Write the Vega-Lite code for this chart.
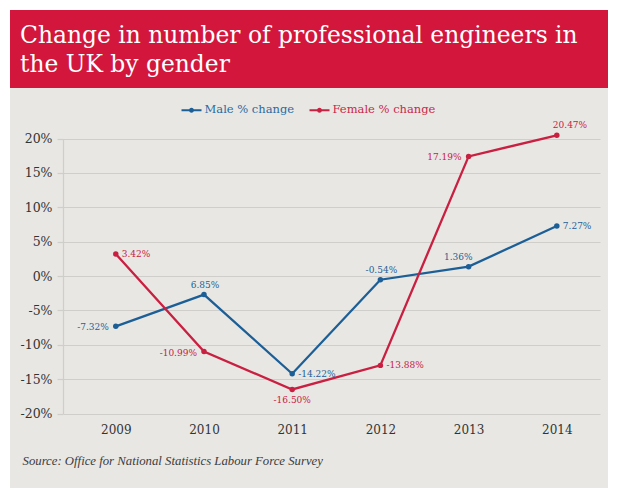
{
  "$schema": "https://vega.github.io/schema/vega-lite/v6.json",
  "background": "white",
  "padding": {"left": 10, "top": 10, "right": 10, "bottom": 12},
  "spacing": 0,
  "bounds": "flush",
  "config": {"view": {"stroke": null}, "font": "DejaVu Serif"},
  "resolve": {"legend": {"color": "independent"}},
  "vconcat": [
    {
      "width": 598,
      "height": 78,
      "view": {"fill": "#d3163b", "stroke": null},
      "data": {"values": [{"title": ["Change in number of professional engineers in", "the UK by gender"]}]},
      "mark": {
        "type": "text",
        "align": "left",
        "baseline": "middle",
        "dx": -289,
        "dy": -13,
        "lineHeight": 28.7,
        "font": "DejaVu Serif",
        "fontSize": 23.4,
        "fontWeight": "normal",
        "color": "white"
      },
      "encoding": {"text": {"field": "title"}}
    },
    {
      "width": 598,
      "height": 400,
      "view": {"fill": "#e8e7e3", "stroke": null},
      "data": {
        "values": [
          {"year": "2009", "series": "Male % change", "value": -7.32, "label": "-7.32%"},
          {"year": "2010", "series": "Male % change", "value": -2.7, "label": "6.85%"},
          {"year": "2011", "series": "Male % change", "value": -14.22, "label": "-14.22%"},
          {"year": "2012", "series": "Male % change", "value": -0.54, "label": "-0.54%"},
          {"year": "2013", "series": "Male % change", "value": 1.36, "label": "1.36%"},
          {"year": "2014", "series": "Male % change", "value": 7.27, "label": "7.27%"},
          {"year": "2009", "series": "Female % change", "value": 3.2, "label": "3.42%"},
          {"year": "2010", "series": "Female % change", "value": -10.99, "label": "-10.99%"},
          {"year": "2011", "series": "Female % change", "value": -16.5, "label": "-16.50%"},
          {"year": "2012", "series": "Female % change", "value": -13.0, "label": "-13.88%"},
          {"year": "2013", "series": "Female % change", "value": 17.4, "label": "17.19%"},
          {"year": "2014", "series": "Female % change", "value": 20.47, "label": "20.47%"}
        ]
      },
      "encoding": {
        "x": {
          "field": "year",
          "type": "ordinal",
          "scale": {"type": "point", "range": [53, 590], "padding": 0.544, "align": 0.55},
          "axis": {
            "orient": "bottom",
            "offset": -74.5,
            "domain": false,
            "ticks": false,
            "grid": false,
            "labelAngle": 0,
            "labelPadding": 11,
            "labelFont": "DejaVu Serif",
            "labelFontSize": 12,
            "labelColor": "#333333",
            "title": "Source: Office for National Statistics Labour Force Survey",
            "titleX": 12,
            "titleY": 50.5,
            "titleAnchor": "start",
            "titleAlign": "left",
            "titleBaseline": "alphabetic",
            "titleFont": "Liberation Serif",
            "titleFontStyle": "italic",
            "titleFontWeight": "normal",
            "titleFontSize": 12.75,
            "titleColor": "#3c3c3c"
          }
        },
        "y": {
          "field": "value",
          "type": "quantitative",
          "scale": {"domain": [-20, 20], "range": [325.5, 50.5], "nice": false, "zero": false},
          "axis": {
            "orient": "left",
            "offset": -53,
            "values": [-20, -15, -10, -5, 0, 5, 10, 15, 20],
            "labelExpr": "datum.value + '%'",
            "title": null,
            "grid": true,
            "gridColor": "#cfcecb",
            "gridWidth": 1.2,
            "domain": true,
            "domainColor": "#cfcecb",
            "domainWidth": 1.2,
            "ticks": true,
            "tickColor": "#cfcecb",
            "tickWidth": 1.2,
            "tickSize": 6,
            "labelPadding": 5,
            "labelFont": "DejaVu Serif",
            "labelFontSize": 12.5,
            "labelColor": "#333333"
          }
        },
        "color": {
          "field": "series",
          "type": "nominal",
          "scale": {"domain": ["Male % change", "Female % change"], "range": ["#1c5f97", "#c92042"]},
          "legend": {
            "orient": "none",
            "legendX": 171.5,
            "legendY": 12,
            "direction": "horizontal",
            "title": null,
            "symbolType": "M-1,-0.1H1V0.1H-1Z M0.25,0A0.25,0.25 0 1,1 -0.25,0A0.25,0.25 0 1,1 0.25,0Z",
            "symbolSize": 400,
            "symbolStrokeWidth": 0,
            "labelFont": "DejaVu Serif",
            "labelFontSize": 11.5,
            "labelOffset": 3,
            "columnPadding": 15,
            "labelColor": {"expr": "datum.label == 'Male % change' ? '#2a6aa2' : '#c8284a'"}
          }
        }
      },
      "layer": [
        {"mark": {"type": "line", "strokeWidth": 2.3}},
        {"mark": {"type": "point", "filled": true, "size": 30, "opacity": 1}},
        {
          "transform": [{"filter": "(datum.series == 'Female % change' && (datum.year == '2009' || datum.year == '2012')) || (datum.series == 'Male % change' && (datum.year == '2011' || datum.year == '2014'))"}],
          "mark": {"type": "text", "align": "left", "baseline": "middle", "dx": 6, "dy": 0, "fontSize": 9, "font": "DejaVu Serif"},
          "encoding": {"text": {"field": "label"}}
        },
        {
          "transform": [{"filter": "(datum.series == 'Male % change' && datum.year == '2009') || (datum.series == 'Female % change' && (datum.year == '2010' || datum.year == '2013'))"}],
          "mark": {"type": "text", "align": "right", "baseline": "middle", "dx": -7, "dy": 1, "fontSize": 9, "font": "DejaVu Serif"},
          "encoding": {"text": {"field": "label"}}
        },
        {
          "transform": [{"filter": "datum.series == 'Male % change' && (datum.year == '2010' || datum.year == '2012')"}],
          "mark": {"type": "text", "align": "center", "baseline": "middle", "dx": 1, "dy": -10, "fontSize": 9, "font": "DejaVu Serif"},
          "encoding": {"text": {"field": "label"}}
        },
        {
          "transform": [{"filter": "datum.series == 'Male % change' && datum.year == '2013'"}],
          "mark": {"type": "text", "align": "right", "baseline": "middle", "dx": 4, "dy": -10, "fontSize": 9, "font": "DejaVu Serif"},
          "encoding": {"text": {"field": "label"}}
        },
        {
          "transform": [{"filter": "datum.series == 'Female % change' && datum.year == '2014'"}],
          "mark": {"type": "text", "align": "left", "baseline": "middle", "dx": -4, "dy": -10, "fontSize": 9, "font": "DejaVu Serif"},
          "encoding": {"text": {"field": "label"}}
        },
        {
          "transform": [{"filter": "datum.series == 'Female % change' && datum.year == '2011'"}],
          "mark": {"type": "text", "align": "center", "baseline": "middle", "dx": 0, "dy": 11, "fontSize": 9, "font": "DejaVu Serif"},
          "encoding": {"text": {"field": "label"}}
        }
      ]
    }
  ]
}
